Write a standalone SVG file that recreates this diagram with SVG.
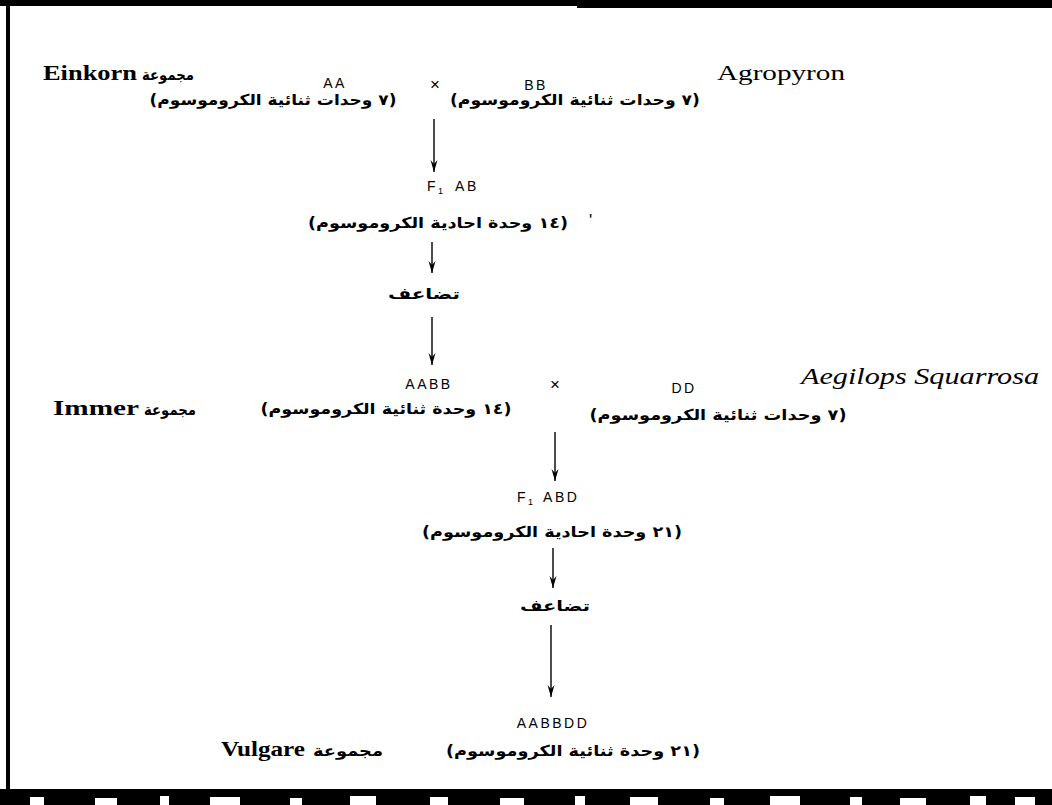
<svg xmlns="http://www.w3.org/2000/svg" width="1052" height="805" viewBox="0 0 1052 805">
  <style>
    .lat { font-family: "Liberation Serif", "DejaVu Serif", serif; font-size: 22px; fill: #000; }
    .latb { font-family: "Liberation Serif", "DejaVu Serif", serif; font-size: 22px; font-weight: bold; fill: #000; }
    .ital { font-family: "Liberation Serif", "DejaVu Serif", serif; font-size: 23px; font-style: italic; fill: #000; }
    .gen { font-family: "Liberation Sans", "DejaVu Sans", sans-serif; font-size: 14px; letter-spacing: 2.5px; fill: #000; }
    .sub { font-size: 9px; letter-spacing: 0; }
    .cross { font-family: "Liberation Sans", "DejaVu Sans", sans-serif; font-size: 17px; fill: #000; }
    .ar { font-family: "DejaVu Sans", "Noto Sans", sans-serif; font-size: 15px; font-weight: bold; fill: #000; direction: rtl; }
    .conn { stroke: #000; stroke-width: 1.4; fill: none; marker-end: url(#head); }
  </style>
  <defs>
    <marker id="head" markerWidth="13" markerHeight="8" refX="12" refY="4" orient="auto" markerUnits="userSpaceOnUse" viewBox="0 0 13 8">
      <path d="M0,0.5 L12,4 L0,7.5 L4,4 Z" fill="#000"/>
    </marker>
  </defs>

  <!-- page frame -->
  <g id="frame" fill="#000">
    <rect x="0" y="0" width="1052" height="6"/>
    <rect x="577" y="0" width="475" height="8"/>
    <rect x="6" y="0" width="4" height="795"/>
    <rect x="0" y="789" width="1052" height="16"/>
    <g fill="#fff">
      <rect x="30" y="797" width="14" height="8"/>
      <rect x="95" y="798" width="22" height="7"/>
      <rect x="160" y="796" width="9" height="9"/>
      <rect x="210" y="797" width="30" height="8"/>
      <rect x="290" y="798" width="12" height="7"/>
      <rect x="350" y="796" width="26" height="9"/>
      <rect x="430" y="797" width="18" height="8"/>
      <rect x="500" y="798" width="24" height="7"/>
      <rect x="575" y="796" width="10" height="9"/>
      <rect x="630" y="797" width="28" height="8"/>
      <rect x="710" y="798" width="14" height="7"/>
      <rect x="770" y="796" width="30" height="9"/>
      <rect x="850" y="797" width="12" height="8"/>
      <rect x="900" y="798" width="26" height="7"/>
      <rect x="970" y="796" width="16" height="9"/>
      <rect x="1015" y="797" width="20" height="8"/>
    </g>
  </g>

  <!-- first cross: Einkorn x Agropyron -->
  <g id="einkorn">
    <text class="latb" x="43" y="80" textLength="94" lengthAdjust="spacingAndGlyphs">Einkorn</text>
    <text class="ar" x="168" y="80" text-anchor="middle" textLength="52" lengthAdjust="spacingAndGlyphs">مجموعة</text>
    <text class="gen" x="335" y="88" text-anchor="middle">AA</text>
    <text class="ar" x="273" y="105" text-anchor="middle" textLength="247" lengthAdjust="spacingAndGlyphs">(٧ وحدات ثنائية الكروموسوم)</text>
  </g>
  <text id="cross1" class="cross" x="435" y="90" text-anchor="middle">×</text>
  <g id="agropyron">
    <text class="lat" x="717" y="80" textLength="128" lengthAdjust="spacingAndGlyphs">Agropyron</text>
    <text class="gen" x="536" y="90" text-anchor="middle">BB</text>
    <text class="ar" x="575" y="105" text-anchor="middle" textLength="250" lengthAdjust="spacingAndGlyphs">(٧ وحدات ثنائية الكروموسوم)</text>
  </g>

  <!-- hybrid AB -->
  <g id="f1-ab">
    <text class="gen" x="427" y="191">F<tspan class="sub" dy="3">1</tspan><tspan dy="-3" dx="12">AB</tspan></text>
    <text class="ar" x="438" y="228" text-anchor="middle" textLength="260" lengthAdjust="spacingAndGlyphs">(١٤ وحدة احادية الكروموسوم)</text>
    <text class="cross" x="589" y="226" font-size="13">'</text>
  </g>
  <g id="doubling1">
    <text class="ar" x="424" y="299" text-anchor="middle" textLength="72" lengthAdjust="spacingAndGlyphs">تضاعف</text>
  </g>

  <!-- second cross: Immer x Aegilops squarrosa -->
  <g id="immer">
    <text class="latb" x="53" y="415" textLength="86" lengthAdjust="spacingAndGlyphs">Immer</text>
    <text class="ar" x="170" y="415" text-anchor="middle" textLength="52" lengthAdjust="spacingAndGlyphs">مجموعة</text>
    <text class="gen" x="429" y="389" text-anchor="middle">AABB</text>
    <text class="ar" x="386" y="414" text-anchor="middle" textLength="251" lengthAdjust="spacingAndGlyphs">(١٤ وحدة ثنائية الكروموسوم)</text>
  </g>
  <text id="cross2" class="cross" x="555" y="390" text-anchor="middle">×</text>
  <g id="aegilops">
    <text class="ital" x="801" y="384" textLength="238" lengthAdjust="spacingAndGlyphs">Aegilops Squarrosa</text>
    <text class="gen" x="684" y="393" text-anchor="middle">DD</text>
    <text class="ar" x="718" y="420" text-anchor="middle" textLength="257" lengthAdjust="spacingAndGlyphs">(٧ وحدات ثنائية الكروموسوم)</text>
  </g>

  <!-- hybrid ABD -->
  <g id="f1-abd">
    <text class="gen" x="517" y="502">F<tspan class="sub" dy="3">1</tspan><tspan dy="-3" dx="10">ABD</tspan></text>
    <text class="ar" x="552" y="537" text-anchor="middle" textLength="260" lengthAdjust="spacingAndGlyphs">(٢١ وحدة احادية الكروموسوم)</text>
  </g>
  <g id="doubling2">
    <text class="ar" x="555" y="611" text-anchor="middle" textLength="70" lengthAdjust="spacingAndGlyphs">تضاعف</text>
  </g>

  <!-- hexaploid result -->
  <g id="vulgare">
    <text class="latb" x="221" y="756" textLength="84" lengthAdjust="spacingAndGlyphs">Vulgare</text>
    <text class="ar" x="348" y="756" text-anchor="middle" textLength="70" lengthAdjust="spacingAndGlyphs">مجموعة</text>
    <text class="gen" x="553" y="728" text-anchor="middle">AABBDD</text>
    <text class="ar" x="573" y="756" text-anchor="middle" textLength="254" lengthAdjust="spacingAndGlyphs">(٢١ وحدة ثنائية الكروموسوم)</text>
  </g>

  <!-- connectors -->
  <g id="connectors">
    <line class="conn" x1="434" y1="119" x2="434" y2="172"/>
    <line class="conn" x1="432" y1="242" x2="432" y2="273"/>
    <line class="conn" x1="432" y1="317" x2="432" y2="365"/>
    <line class="conn" x1="555" y1="432" x2="555" y2="481"/>
    <line class="conn" x1="553" y1="548" x2="553" y2="588"/>
    <line class="conn" x1="551" y1="625" x2="551" y2="697"/>
  </g>
</svg>
